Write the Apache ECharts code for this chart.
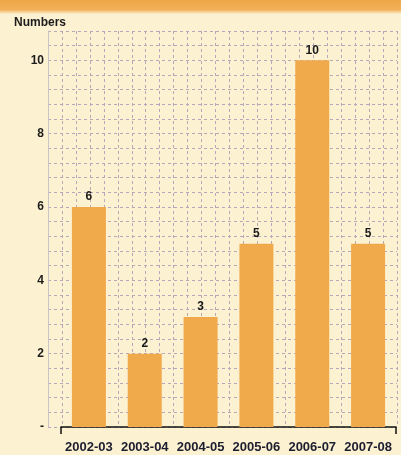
<!DOCTYPE html>
<html>
<head>
<meta charset="utf-8">
<script src="https://cdn.jsdelivr.net/npm/echarts@6/dist/echarts.min.js"></script>
<style>
  html, body { margin: 0; padding: 0; background: #fcf1d1; }
  #chart { width: 401px; height: 455px; }
</style>
</head>
<body>
<div id="chart"></div>
<script>
// Seasons and counts
const seasons = ['2002-03', '2003-04', '2004-05', '2005-06', '2006-07', '2007-08'];
const counts = [6, 2, 3, 5, 10, 5];
// Labelled y ticks (others are minor grid lines)
const yTickValues = [0, 2, 4, 6, 8, 10];
const yTickLabels = ['-', '2', '4', '6', '8', '10'];

const yMax = 10.8;
const minorStep = 0.4;
const gridColumns = 25;

const chart = echarts.init(document.getElementById('chart'), null, { renderer: 'canvas' });

const dashed = { color: '#b3a9b9', width: 1, type: [3, 3] };
const labelFont = { fontFamily: 'Liberation Sans, Arial, sans-serif', fontWeight: 'bold' };

chart.setOption({
  backgroundColor: '#fcf1d1',
  animation: false,
  graphic: [{
    type: 'rect',
    left: 0, top: 0,
    shape: { width: 401, height: 14 },
    style: {
      fill: new echarts.graphic.LinearGradient(0, 0, 0, 1, [
        { offset: 0, color: '#efa647' },
        { offset: 0.7, color: '#f1b15a' },
        { offset: 1, color: '#fcf1d1' }
      ])
    },
    silent: true
  }],
  title: {
    text: 'Numbers',
    left: 9, top: 12,
    textStyle: { ...labelFont, fontSize: 12, color: '#1c1c1c' }
  },
  grid: [
    { left: 48, right: 4, top: 31, bottom: 28 },
    { left: 61, right: 5, top: 31, bottom: 28 }
  ],
  xAxis: [
    {
      type: 'value', gridIndex: 0, position: 'bottom', min: 0, max: gridColumns, interval: 1,
      axisLine: { show: false }, axisTick: { show: false }, axisLabel: { show: false },
      splitLine: { show: true, lineStyle: dashed }
    },
    {
      type: 'category', gridIndex: 1, position: 'bottom', data: seasons,
      axisLine: { show: false }, axisTick: { show: false },
      axisLabel: { ...labelFont, fontSize: 13, color: '#1d1d30', margin: 14, interval: 0 }
    },
    {
      type: 'value', gridIndex: 1, position: 'bottom', min: 0, max: 1, interval: 1,
      axisLine: { show: true, onZero: false, lineStyle: { color: '#111', width: 1.5 } },
      axisTick: { show: true, length: 7, inside: false, lineStyle: { color: '#111', width: 1.5 } },
      axisLabel: { show: false }, splitLine: { show: false }
    }
  ],
  yAxis: [
    {
      type: 'value', gridIndex: 0, min: 0, max: yMax, interval: minorStep,
      axisLine: { show: true, lineStyle: { color: '#c9c2c8', width: 1 } },
      axisTick: { show: false },
      splitLine: { show: true, lineStyle: dashed },
      axisLabel: {
        ...labelFont, fontSize: 12, color: '#1c1c1c', margin: 4,
        formatter: function (v) {
          const i = yTickValues.findIndex(t => Math.abs(t - v) < 1e-6);
          return i >= 0 ? yTickLabels[i] : '';
        }
      }
    },
    {
      type: 'value', gridIndex: 1, min: 0, max: yMax, interval: minorStep,
      show: false, splitLine: { show: false }
    }
  ],
  series: [{
    type: 'bar',
    xAxisIndex: 1, yAxisIndex: 1,
    data: counts,
    barWidth: 34,
    itemStyle: { color: '#f0aa4c' },
    label: {
      show: true, position: 'top', distance: 4,
      ...labelFont, fontSize: 12, color: '#1a1a1a'
    }
  }]
});
</script>
</body>
</html>
